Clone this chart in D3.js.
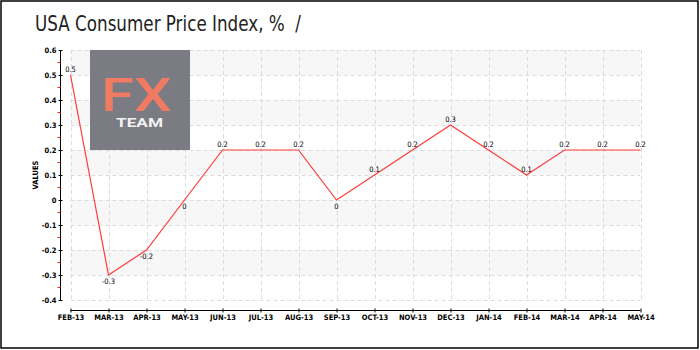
<!DOCTYPE html>
<html>
<head>
<meta charset="utf-8">
<script src="https://cdn.jsdelivr.net/npm/d3@7/dist/d3.min.js"></script>
<style>
  html, body { margin: 0; padding: 0; background: #fff; }
  svg { display: block; }
  text { white-space: pre; }
</style>
</head>
<body>
<div id="chart"></div>
<script>
// Monthly CPI change, %
const months = ["FEB-13","MAR-13","APR-13","MAY-13","JUN-13","JUL-13","AUG-13","SEP-13",
                "OCT-13","NOV-13","DEC-13","JAN-14","FEB-14","MAR-14","APR-14","MAY-14"];
const cpi = [0.5, -0.3, -0.2, 0, 0.2, 0.2, 0.2, 0, 0.1, 0.2, 0.3, 0.2, 0.1, 0.2, 0.2, 0.2];
const yTicks = [-0.4, -0.3, -0.2, -0.1, 0, 0.1, 0.2, 0.3, 0.4, 0.5, 0.6];
const yMinor = [-0.35, -0.25, -0.15, -0.05, 0.05, 0.15, 0.25, 0.35, 0.45, 0.55];
const titleText = "USA Consumer Price Index, %  /";

const W = 700, H = 350;
const svg = d3.select("#chart").append("svg").attr("width", W).attr("height", H);

// plain hyphen for negatives
const fmt = v => d3.format("~g")(v).replace("\u2212", "-");

// frame
svg.append("rect").attr("x", 1).attr("y", 1).attr("width", 697).attr("height", 347)
  .attr("fill", "#fff").attr("stroke", "#000").attr("stroke-width", 1.5);

const x = d3.scalePoint().domain(months).range([70.5, 640.5]);
const y = d3.scaleLinear().domain([-0.4, 0.6]).range([300, 50]);

const plotL = 70.5, plotR = 640.5;

// alternating bands
const bands = [[0.5, 0.6], [0.3, 0.4], [0.1, 0.2], [-0.1, 0], [-0.3, -0.2]];
svg.append("g").selectAll("rect").data(bands).join("rect")
  .attr("x", plotL).attr("width", plotR - plotL)
  .attr("y", d => y(d[1])).attr("height", d => y(d[0]) - y(d[1]))
  .attr("fill", "#f7f7f7");

// dashed grid
const grid = svg.append("g").attr("stroke", "#dcdcdc").attr("stroke-dasharray", "4,3").attr("stroke-width", 1);
grid.selectAll("line.h").data(yTicks).join("line").attr("class", "h")
  .attr("x1", plotL).attr("x2", plotR)
  .attr("y1", d => Math.round(y(d)) + 0.5).attr("y2", d => Math.round(y(d)) + 0.5);
grid.selectAll("line.v").data(months).join("line").attr("class", "v")
  .attr("x1", d => Math.round(x(d)) + 0.5).attr("x2", d => Math.round(x(d)) + 0.5)
  .attr("y1", 50).attr("y2", 300);

// logo: one text block with two lines
const logo = svg.append("g");
logo.append("rect").attr("x", 90).attr("y", 50).attr("width", 100).attr("height", 100)
  .attr("fill", "#7b7b83");
const logoText = logo.append("text").attr("font-family", "Roboto, sans-serif");
logoText.append("tspan").attr("x", 101).attr("y", 111)
  .attr("font-size", 46).attr("font-weight", 500)
  .attr("textLength", 71).attr("lengthAdjust", "spacingAndGlyphs")
  .attr("fill", "#f07a62").text("FX");
logoText.append("tspan").attr("x", 116).attr("y", 126.5)
  .attr("font-size", 12.5).attr("font-weight", 700)
  .attr("textLength", 47).attr("lengthAdjust", "spacingAndGlyphs")
  .attr("fill", "#f2f2f2").text("TEAM");

// title
svg.append("text").attr("x", 35).attr("y", 31)
  .attr("font-family", "'DejaVu Sans Condensed', sans-serif").attr("font-size", 21)
  .attr("textLength", 266).attr("lengthAdjust", "spacingAndGlyphs")
  .attr("fill", "#222").text(titleText);

const smallFont = "'DejaVu Sans Condensed', 'DejaVu Sans', sans-serif";

// y axis
const yAxis = svg.append("g").attr("transform", "translate(60.5,0)")
  .call(d3.axisLeft(y).tickValues(yTicks).tickSize(2).tickFormat(fmt));
yAxis.select(".domain").attr("d", "M0," + y(0.6) + "V" + y(-0.4)).attr("stroke", "#000");
yAxis.selectAll(".tick line").attr("x1", 2).attr("x2", -2).attr("stroke", "#000");
yAxis.selectAll(".tick text").attr("x", -4).attr("font-family", smallFont).attr("font-size", 7.5)
  .attr("font-weight", 700).attr("fill", "#000");
yAxis.selectAll("line.minor").data(yMinor).join("line").attr("class", "minor")
  .attr("x1", -3).attr("x2", 0).attr("y1", d => y(d)).attr("y2", d => y(d))
  .attr("stroke", "#e8281e").attr("stroke-width", 1);

svg.append("text").attr("transform", "translate(38,175) rotate(-90)").attr("text-anchor", "middle")
  .attr("font-family", smallFont).attr("font-size", 7.5).attr("font-weight", 700).text("VALUES");

// x axis
const xAxis = svg.append("g").attr("transform", "translate(0,310.5)")
  .call(d3.axisBottom(x).tickSize(2));
xAxis.select(".domain").attr("d", "M" + plotL + ",0H" + plotR).attr("stroke", "#000");
xAxis.selectAll(".tick line").attr("y1", -2).attr("y2", 2).attr("stroke", "#000");
xAxis.selectAll(".tick text").attr("y", 4).attr("font-family", smallFont).attr("font-size", 7.5)
  .attr("font-weight", 700).attr("fill", "#000");

// series line
const line = d3.line().x((d, i) => x(months[i])).y(d => y(d));
svg.append("path").datum(cpi).attr("d", line).attr("fill", "none")
  .attr("stroke", "#ff3a3a").attr("stroke-width", 1.2);

// value labels
svg.append("g").selectAll("text").data(cpi).join("text")
  .attr("x", (d, i) => x(months[i]))
  .attr("y", d => d > 0 ? y(d) - 3 : y(d) + 9)
  .attr("text-anchor", "middle")
  .attr("font-family", smallFont).attr("font-size", 7.5).attr("fill", "#000")
  .text(fmt);
</script>
</body>
</html>
